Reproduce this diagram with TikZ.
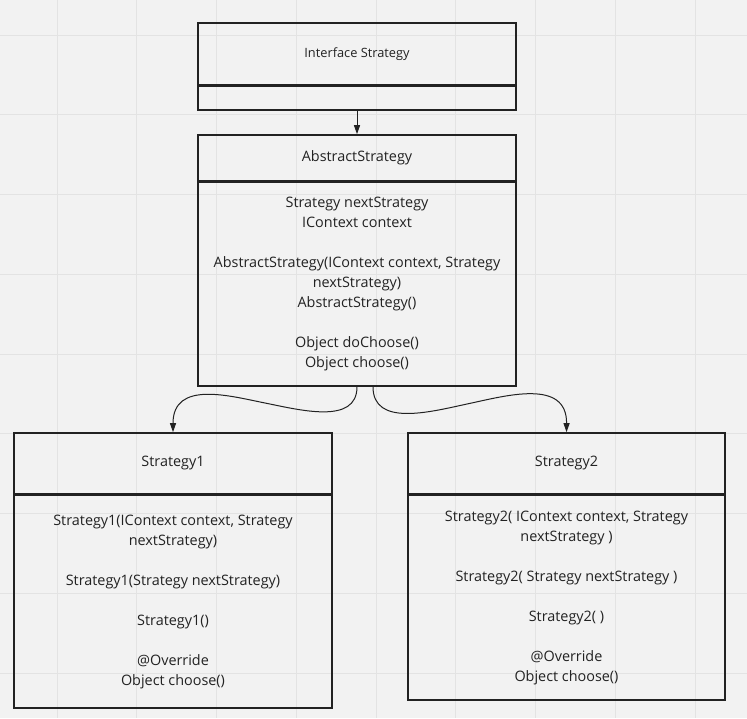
\documentclass[tikz,border=0pt]{standalone}
\usepackage{fontspec}
\setmainfont{Open Sans}
\usetikzlibrary{arrows.meta}
\definecolor{paper}{HTML}{F2F2F2}
\definecolor{gridline}{HTML}{E3E3E3}
\definecolor{ink}{HTML}{222222}

\begin{document}
\begin{tikzpicture}[x=1pt, y=-1pt, font=\fontsize{14.4}{20}\selectfont, >={Triangle[length=9pt, width=6pt]},
  head/.style={draw=ink, text=ink, line width=1.6pt, minimum width=318pt, inner sep=0pt},
  body/.style={draw=ink, text=ink, line width=1.6pt, minimum width=318pt, inner sep=0pt, align=center},
  link/.style={draw=ink, line width=1pt, ->}]
  \fill[paper] (0,0) rectangle (747,718);
  \useasboundingbox (0,0) rectangle (747,718);
  \foreach \k in {0,...,8} {
    \draw[gridline, line width=1pt] ({57+79.75*\k},0) -- ({57+79.75*\k},718);
    \draw[gridline, line width=1pt] (0,{35+79.75*\k}) -- (747,{35+79.75*\k});
  }

  \node[head, minimum height=61.9pt, font=\fontsize{12.8}{16}\selectfont] (iface) at (357,53.95) {Interface Strategy};
  \node[body, minimum height=23.9pt] (ifacebody) at (357,98.05) {};

  \node[head, minimum height=45.4pt] (abs) at (357,157.7) {AbstractStrategy};
  \node[body, minimum height=203.9pt] (absbody) at (357,284.05) {Strategy nextStrategy\\IContext context\\[20pt]AbstractStrategy(IContext context, Strategy\\nextStrategy)\\AbstractStrategy()\\[20pt]Object doChoose()\\Object choose()};

  \node[head, minimum height=60.4pt] (s1) at (173,463.2) {Strategy1};
  \node[body, minimum height=212.9pt] (s1body) at (173,601.55) {Strategy1(IContext context, Strategy\\nextStrategy)\\[20pt]Strategy1(Strategy nextStrategy)\\[20pt]Strategy1()\\[20pt]@Override\\Object choose()};

  \node[head, minimum width=317pt, minimum height=60.4pt] (s2) at (566.5,463.2) {Strategy2};
  \node[body, minimum width=317pt, minimum height=204.9pt] (s2body) at (566.5,597.55) {Strategy2( IContext context, Strategy\\nextStrategy )\\[20pt]Strategy2( Strategy nextStrategy )\\[20pt]Strategy2( )\\[20pt]@Override\\Object choose()};

  \draw[link] (ifacebody) -- (abs);
  \draw[link] (absbody.south) .. controls (357,425) and (300,410) .. (265,403) .. controls (230,396) and (173,380) .. (s1.north);
  \draw[link] ([xshift=16pt]absbody.south) .. controls (373,427) and (430,412) .. (467,404) .. controls (505,396) and (567,378) .. (s2.north);
\end{tikzpicture}
\end{document}
